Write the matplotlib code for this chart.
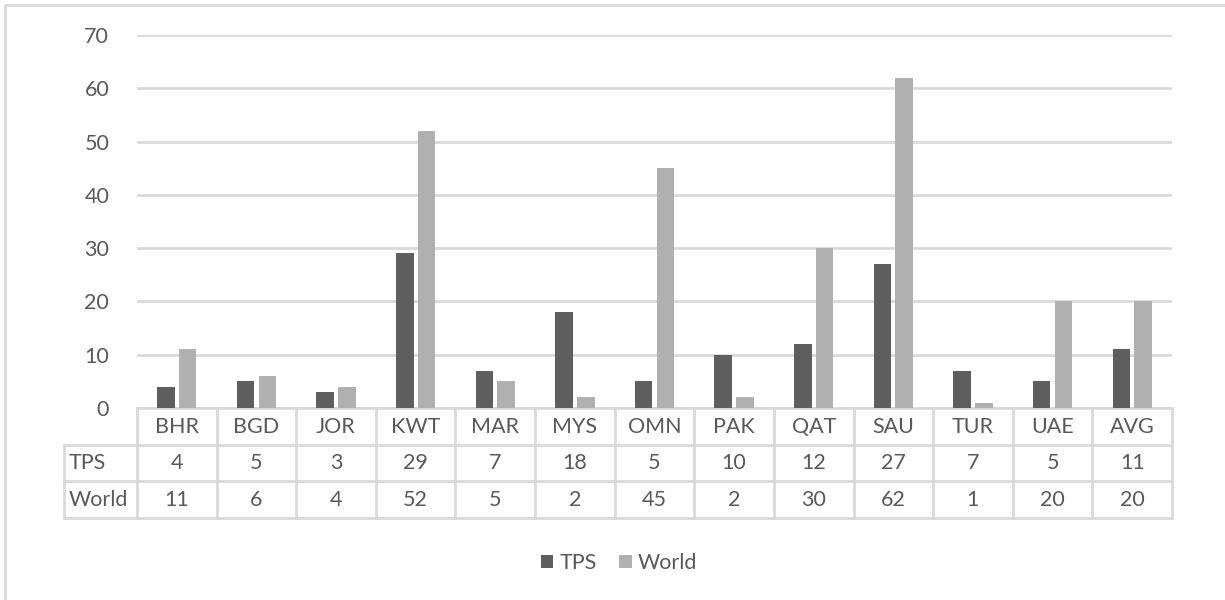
import matplotlib.pyplot as plt
import numpy as np
from matplotlib.lines import Line2D

plt.rcParams['font.family'] = ['Lato', 'DejaVu Sans']

countries = ["BHR", "BGD", "JOR", "KWT", "MAR", "MYS", "OMN", "PAK", "QAT", "SAU", "TUR", "UAE", "AVG"]
tps = [4, 5, 3, 29, 7, 18, 5, 10, 12, 27, 7, 5, 11]
world = [11, 6, 4, 52, 5, 2, 45, 2, 30, 62, 1, 20, 20]
series_names = ["TPS", "World"]

txt = '#595959'
grid = '#d9d9d9'
c_tps = '#5e5e5e'
c_world = '#b0b0b0'
fs = 15.5

fig = plt.figure(figsize=(12.25, 6), dpi=100)
ax = fig.add_axes([137/1225, 1-408/600, 1035/1225, 373/600])

x = np.arange(len(countries))
w = 0.22
ax.bar(x - 0.137, tps, w, color=c_tps, label=series_names[0], zorder=3)
ax.bar(x + 0.137, world, w, color=c_world, label=series_names[1], zorder=3)

ax.set_xlim(-0.5, len(countries) - 0.5)
ax.set_ylim(0, 70)
ax.set_yticks(range(0, 71, 10))
ax.yaxis.grid(True, color=grid, linewidth=2)
ax.set_axisbelow(True)
for s in ax.spines.values():
    s.set_visible(False)
ax.tick_params(axis='y', length=0, pad=20, labelsize=fs, labelcolor=txt)
ax.set_xticks([])

# data table under the chart
tr = ax.get_xaxis_transform()
rows = [0, -0.0992, -0.197, -0.295]
left = -0.0705
lw = 2
# horizontal lines
ax.plot([0, 1], [0, 0], transform=ax.transAxes, color=grid, lw=lw, clip_on=False)
for y in rows[1:]:
    ax.plot([left, 1], [y, y], transform=ax.transAxes, color=grid, lw=lw, clip_on=False)
# vertical lines
for i in range(len(countries) + 1):
    ax.plot([i - 0.5, i - 0.5], [rows[0], rows[-1]], transform=tr, color=grid, lw=lw, clip_on=False)
ax.plot([left, left], [rows[1], rows[-1]], transform=ax.transAxes, color=grid, lw=lw, clip_on=False)

mid = [(rows[k] + rows[k + 1]) / 2 for k in range(3)]
for i, c in enumerate(countries):
    ax.text(i, mid[0], c, transform=tr, ha='center', va='center', fontsize=fs, color=txt)
    ax.text(i, mid[1], str(tps[i]), transform=tr, ha='center', va='center', fontsize=fs, color=txt)
    ax.text(i, mid[2], str(world[i]), transform=tr, ha='center', va='center', fontsize=fs, color=txt)
ax.text(left + 0.004, mid[1], series_names[0], transform=ax.transAxes, ha='left', va='center', fontsize=fs, color=txt)
ax.text(left + 0.004, mid[2], series_names[1], transform=ax.transAxes, ha='left', va='center', fontsize=fs, color=txt)

fig.legend(loc='center', bbox_to_anchor=(619/1225, 1-563/600), ncol=2, frameon=False,
           handlelength=0.6, handleheight=0.6, handletextpad=0.3, columnspacing=1.0,
           fontsize=fs, labelcolor=txt)

# outer border (top and left visible)
fig.add_artist(Line2D([4.5/1225, 4.5/1225], [0, 1-5/600], color=grid, lw=2))
fig.add_artist(Line2D([4.5/1225, 1], [1-5/600, 1-5/600], color=grid, lw=2))

fig.savefig("out.png", dpi=100)
